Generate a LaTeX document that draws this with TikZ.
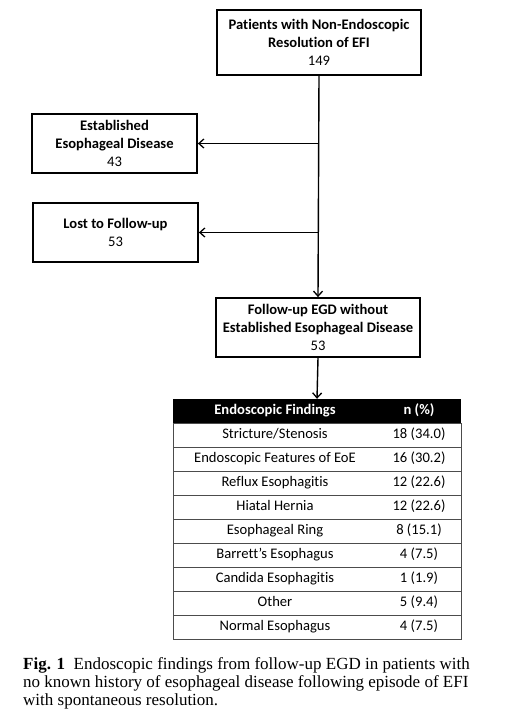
\documentclass[tikz,border=0pt]{standalone}
\usepackage{fontspec}
\setmainfont{Liberation Serif}
\newfontfamily\calfont[Ligatures=NoCommon]{Carlito}
\usetikzlibrary{arrows.meta}
\begin{document}
\begin{tikzpicture}[x=1pt,y=-1pt,
  box/.style={draw=black,line width=1.8pt,fill=white,align=center,inner sep=0pt,
    font=\calfont\fontsize{14.6}{18}\selectfont},
  arr/.style={line width=1.4pt,-{Straight Barb[length=5pt,width=9pt,line width=1.3pt]}},
  cell/.style={inner sep=0pt,text height=10pt,text depth=3pt,font=\calfont\fontsize{14.6}{16}\selectfont},
  hcell/.style={inner sep=0pt,text height=10pt,text depth=3pt,text=white,font=\calfont\bfseries\fontsize{14.6}{16}\selectfont},
  rowline/.style={draw=black!70,line width=0.9pt}]
\useasboundingbox (0,0) rectangle (509,722);
\fill[white] (0,0) rectangle (509,722);
% flow boxes
\node[box,minimum width=204pt,minimum height=65pt] (b1) at (319,42.5)
  {\textbf{Patients with Non-Endoscopic}\\\textbf{Resolution of EFI}\\149};
\node[box,minimum width=165pt,minimum height=59pt] (b2) at (114.5,143.5)
  {\textbf{Established}\\\textbf{Esophageal Disease}\\43};
\node[box,minimum width=165pt,minimum height=59pt] (b3) at (115.5,232.5)
  {\textbf{Lost to Follow-up}\\53};
\node[box,minimum width=204pt,minimum height=59pt] (b4) at (318,327.5)
  {\textbf{Follow-up EGD without}\\\textbf{Established Esophageal Disease}\\53};
% trunk and branches
\draw[arr] (b1.south) -- (b4.north);
\coordinate (j2) at (b1.south |- b2.east);
\coordinate (j3) at (b1.south |- b3.east);
\draw[arr] (j2) -- (b2.east);
\draw[arr] (j3) -- (b3.east);
% table
\node[fill=black,minimum width=288pt,minimum height=24pt,inner sep=0pt] (hdr) at (317,411) {};
\draw[arr] (b4.south) -- (hdr.north);
\node[hcell] (h1) at (275,411) {Endoscopic Findings};
\node[hcell] (h2) at (419,411) {n (\%)};
\draw[rowline] (173,423) rectangle (461,639);
\foreach \i/\a/\b in {0/Stricture\slash Stenosis/18 (34.0),
                      1/Endoscopic Features of EoE/16 (30.2),
                      2/Reflux Esophagitis/12 (22.6),
                      3/Hiatal Hernia/12 (22.6),
                      4/Esophageal Ring/8 (15.1),
                      5/Barrett’s Esophagus/4 (7.5),
                      6/Candida Esophagitis/1 (1.9),
                      7/Other/5 (9.4),
                      8/Normal Esophagus/4 (7.5)}{
  \node[cell] (r\i a) at (275,{435+24*\i}) {\a};
  \node[cell] (r\i b) at (419,{435+24*\i}) {\b};
}
\foreach \i in {1,...,8}{\draw[rowline] (173,{423+24*\i}) -- (461,{423+24*\i});}
% caption
\node[anchor=north west,inner sep=0pt,align=left,font=\fontsize{17}{18}\selectfont] (cap) at (23,657)
  {\textbf{Fig. 1}\hspace{0.5em}Endoscopic findings from follow-up EGD in patients with\\
   no known history of esophageal disease following episode of EFI\\
   with spontaneous resolution.};
\end{tikzpicture}
\end{document}
